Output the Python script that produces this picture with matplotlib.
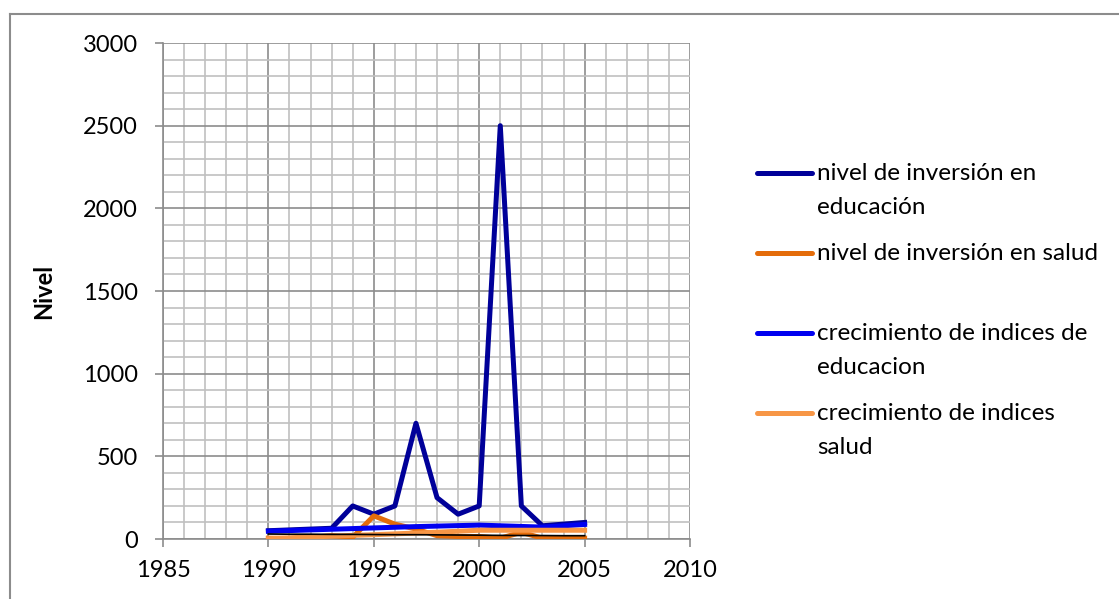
import numpy as np
import matplotlib
matplotlib.use('Agg')
import matplotlib.pyplot as plt
from matplotlib.lines import Line2D
from matplotlib.ticker import MultipleLocator

plt.rcParams['font.family'] = ['Lato', 'DejaVu Sans']

# datos
anios = list(range(1990, 2006))
inv_educacion = [50, 55, 60, 65, 200, 150, 200, 700, 250, 150, 200, 2500, 200, 80, 90, 100]
inv_salud = [5, 3, 10, 20, 10, 140, 90, 60, 20, 15, 15, 5, 40, 5, 5, 5]
serie_sin_nombre = [30, 29, 29, 28, 28, 27, 26, 26, 25, 24, 23, 22, 21, 21, 20, 20]
crec_educacion = [47, 51, 55, 59, 63, 67, 71, 75, 78, 81, 84, 80, 76, 72, 80, 88]
crec_salud = [2, 7, 12, 17, 22, 26, 31, 36, 41, 47, 53, 53, 53, 53, 53, 53]

etiquetas = ['nivel de inversión en\neducación',
             'nivel de inversión en salud',
             '',
             'crecimiento de indices de\neducacion',
             'crecimiento de indices\nsalud']
colores = ['#000099', '#E46C0A', 'black', '#0000F0', '#F79646']

W, H = 1119, 599
fig = plt.figure(figsize=(W / 100, H / 100), dpi=100)
ax = fig.add_axes([163 / W, 1 - 539 / H, (690 - 163) / W, (539 - 43) / H])

ax.plot(anios, inv_educacion, color=colores[0], lw=3.6, zorder=3)
ax.plot(anios, inv_salud, color=colores[1], lw=3.6, zorder=3)
ax.plot(anios, crec_educacion, color=colores[3], lw=3.6, zorder=4)
ax.plot(anios, crec_salud, color=colores[4], lw=3.6, zorder=4)
ax.plot(anios, serie_sin_nombre, color=colores[2], lw=1.2, zorder=5)

ax.set_xlim(1985, 2010)
ax.set_ylim(0, 3000)
ax.xaxis.set_major_locator(MultipleLocator(5))
ax.xaxis.set_minor_locator(MultipleLocator(1))
ax.yaxis.set_major_locator(MultipleLocator(500))
ax.yaxis.set_minor_locator(MultipleLocator(100))
ax.grid(which='minor', color='#c0c0c0', lw=1.2)
ax.grid(which='major', color='#8c8c8c', lw=1.2)
ax.set_axisbelow(True)

for s in ['top', 'right']:
    ax.spines[s].set_visible(False)
for s in ['left', 'bottom']:
    ax.spines[s].set_color('#8c8c8c')
    ax.spines[s].set_linewidth(1.2)
ax.tick_params(which='major', length=6, color='#8c8c8c', width=1.2, labelsize=17)
ax.tick_params(axis='y', pad=12)
ax.tick_params(axis='x', pad=9)
ax.tick_params(which='minor', length=0)
ax.set_ylabel('Nivel', fontsize=17, fontweight='bold')
ax.yaxis.set_label_coords((55 - 163) / 527, 0.5)

# leyenda a mano: la linea va con la primera linea del texto
y = 173
alto_linea = 35
for c, lab in zip(colores, etiquetas):
    if lab == '':
        y += 35  # hueco de la serie sin nombre
        continue
    fig.add_artist(Line2D([757 / W, 812 / W], [1 - y / H, 1 - y / H], color=c, lw=3.6,
                          solid_capstyle='round'))
    for i, linea in enumerate(lab.split('\n')):
        fig.text(817 / W, 1 - (y + i * alto_linea) / H, linea, fontsize=17.5, va='center', ha='left')
    y += len(lab.split('\n')) * alto_linea + 10

# borde exterior
fig.add_artist(Line2D([10 / W, 10 / W], [0, 1 - 14 / H], color='#8c8c8c', lw=1.5))
fig.add_artist(Line2D([10 / W, 1], [1 - 14 / H, 1 - 14 / H], color='#8c8c8c', lw=1.5))

fig.savefig('out.png', dpi=100)
